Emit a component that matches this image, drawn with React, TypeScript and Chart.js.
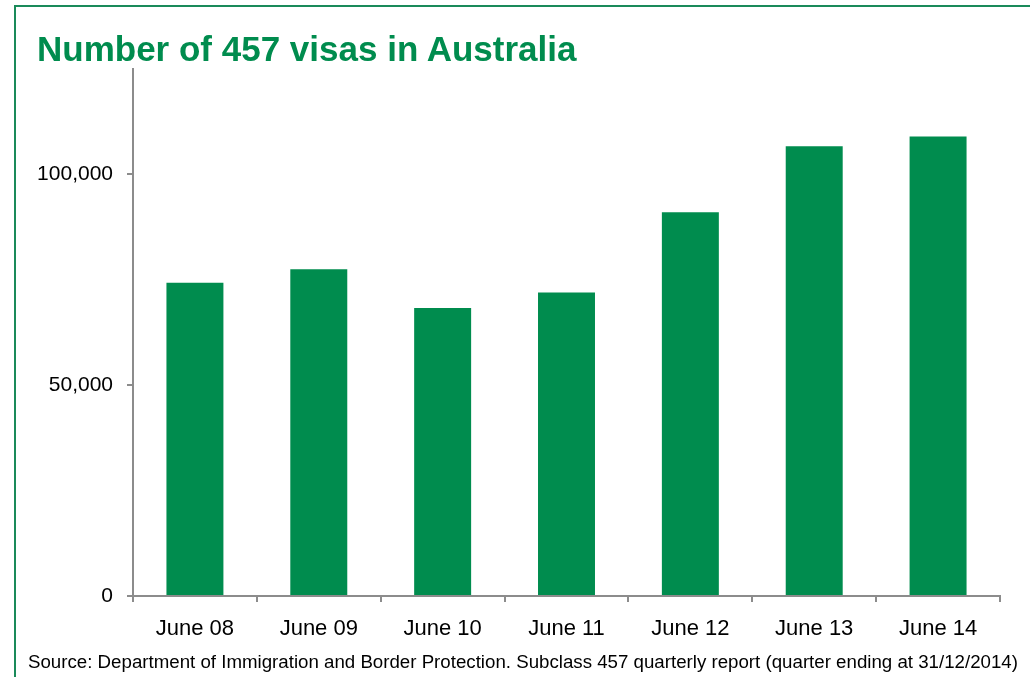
import React, { useEffect, useRef } from "react";
import { Chart, registerables } from "chart.js";

Chart.register(...registerables);

const categories = ["June 08", "June 09", "June 10", "June 11", "June 12", "June 13", "June 14"];
const visas = [74300, 77500, 68300, 72000, 91000, 106700, 109000];
const yTickValues = [0, 50000, 100000];
const yMax = 125000;

const GREEN = "#008C4E";
const AXIS = "#8C8C8C";
const FONT = "'Liberation Sans', Arial, Helvetica, sans-serif";

export default function App() {
  const ref = useRef<HTMLCanvasElement>(null);

  useEffect(() => {
    if (!ref.current) return;
    const chart = new Chart(ref.current, {
      type: "bar",
      data: {
        labels: categories,
        datasets: [
          {
            data: visas,
            backgroundColor: GREEN,
            borderWidth: 0,
            barPercentage: 0.46,
            categoryPercentage: 1,
          },
        ],
      },
      options: {
        animation: false,
        responsive: false,
        maintainAspectRatio: false,
        layout: { padding: { top: 69, right: 30, bottom: 0, left: 0 } },
        plugins: {
          legend: { display: false },
          tooltip: { enabled: false },
          title: { display: false },
        },
        scales: {
          x: {
            grid: {
              drawOnChartArea: false,
              tickLength: 6,
              color: AXIS,
              lineWidth: 2,
              offset: true,
            },
            border: { color: AXIS, width: 2 },
            ticks: {
              font: { family: FONT, size: 22 },
              color: "#000",
              padding: 14,
              maxRotation: 0,
              autoSkip: false,
            },
            afterFit: (s: any) => {
              s.height = 81;
            },
          },
          y: {
            min: 0,
            max: yMax,
            afterBuildTicks: (s: any) => {
              s.ticks = yTickValues.map((v) => ({ value: v }));
            },
            grid: {
              drawOnChartArea: false,
              tickLength: 6,
              color: AXIS,
              lineWidth: 2,
            },
            border: { color: AXIS, width: 2 },
            ticks: {
              font: { family: FONT, size: 21 },
              color: "#000",
              padding: 14,
              callback: (v: any) => Number(v).toLocaleString("en-US"),
            },
            afterFit: (s: any) => {
              s.width = 133;
            },
          },
        },
      },
    });
    return () => chart.destroy();
  }, []);

  return (
    <div
      style={{
        position: "absolute",
        left: 0,
        top: 0,
        width: 1030,
        height: 677,
        background: "#fff",
        overflow: "hidden",
        fontFamily: FONT,
      }}
    >
      <div
        style={{
          position: "absolute",
          left: 14,
          top: 5,
          width: 1016,
          height: 672,
          borderTop: "2px solid #1A8A5A",
          borderLeft: "2px solid #1A8A5A",
          boxSizing: "border-box",
        }}
      />
      <canvas
        ref={ref}
        width={1030}
        height={677}
        style={{ position: "absolute", left: 0, top: 0, width: 1030, height: 677 }}
      />
      <div
        style={{
          position: "absolute",
          left: 37,
          top: 31,
          fontSize: 35,
          lineHeight: "35px",
          fontWeight: "bold",
          color: GREEN,
          whiteSpace: "nowrap",
        }}
      >
        Number of 457 visas in Australia
      </div>
      <div
        style={{
          position: "absolute",
          left: 28,
          top: 652,
          fontSize: 18.7,
          lineHeight: "19px",
          color: "#000",
          whiteSpace: "nowrap",
        }}
      >
        Source: Department of Immigration and Border Protection. Subclass 457 quarterly report (quarter ending at 31/12/2014)
      </div>
    </div>
  );
}
